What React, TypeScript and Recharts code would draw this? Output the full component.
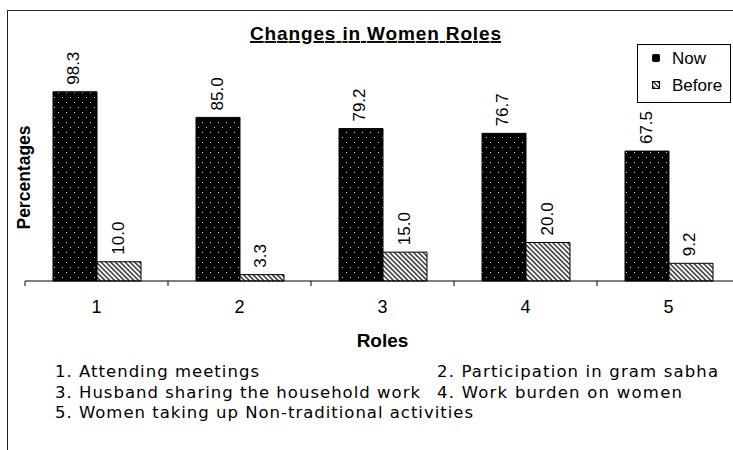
import React from "react";
import { BarChart, Bar, XAxis, YAxis, Legend, LabelList } from "recharts";

const roles = ["1", "2", "3", "4", "5"];
const nowValues = [98.3, 85.0, 79.2, 76.7, 67.5];
const beforeValues = [10.0, 3.3, 15.0, 20.0, 9.2];
const seriesNames = ["Now", "Before"];
const roleNotes = [
  "1. Attending meetings",
  "2. Participation in gram sabha",
  "3. Husband sharing the household work",
  "4. Work burden on women",
  "5. Women taking up Non-traditional activities",
];

const data = roles.map((role, i) => ({ role, now: nowValues[i], before: beforeValues[i] }));

const FONT = "'Liberation Sans', Arial, sans-serif";
const NOTE_FONT = "'DejaVu Sans', Verdana, sans-serif";

// where the footnote lines sit in the original (pixels)
const noteLayout = [
  { x: 55, y: 377, len: 204 },
  { x: 437, y: 377, len: 281 },
  { x: 55, y: 398, len: 365 },
  { x: 437, y: 398, len: 245 },
  { x: 55, y: 418, len: 418 },
];

const ValueLabel = (props: any) => {
  const { x, y, width, value } = props;
  const ax = x + width / 2 + 4.5;
  const ay = y - 7;
  return (
    <text
      x={ax}
      y={ay}
      transform={`rotate(-90, ${ax}, ${ay})`}
      textAnchor="start"
      fontSize={17}
      fontFamily={FONT}
      fill="#000"
    >
      {Number(value).toFixed(1)}
    </text>
  );
};

const RoleTick = (props: any) => {
  const { x, y, payload } = props;
  const half = payload?.offset || 71.5;
  return (
    <g>
      <line x1={x - half} y1={y} x2={x - half} y2={y + 5} stroke="#000" />
      <text x={x} y={y + 32} textAnchor="middle" fontSize={18} fontFamily={FONT} fill="#000">
        {payload.value}
      </text>
    </g>
  );
};

const RolesLabel = (props: any) => {
  const vb = props.viewBox || { x: 25, y: 281, width: 715 };
  return (
    <text
      x={vb.x + vb.width / 2}
      y={vb.y + 66}
      textAnchor="middle"
      fontSize={19}
      fontWeight="bold"
      fontFamily={FONT}
      fill="#000"
    >
      Roles
    </text>
  );
};

const PercentLabel = (props: any) => {
  const vb = props.viewBox || { x: 0, y: 50, width: 25, height: 231 };
  const ax = 30;
  const ay = vb.y + vb.height / 2 + 12;
  return (
    <text
      x={ax}
      y={ay}
      transform={`rotate(-90, ${ax}, ${ay})`}
      textAnchor="middle"
      fontSize={17.5}
      fontWeight="bold"
      fontFamily={FONT}
      fill="#000"
    >
      Percentages
    </text>
  );
};

const LegendBox = (props: any) => {
  const payload = props.payload || [];
  const items = seriesNames
    .map((n) => payload.find((p: any) => p.value === n))
    .filter(Boolean);
  return (
    <svg width={94} height={59} style={{ display: "block" }}>
      <rect x={0.5} y={0.5} width={93} height={58} fill="#fff" stroke="#000" />
      {items.map((p: any, i: number) => (
        <g key={p.value}>
          <rect
            x={15.5}
            y={10.5 + i * 27}
            width={7}
            height={7}
            rx={p.value === "Now" ? 1 : 0}
            fill={p.value === "Now" ? "#000" : "url(#beforeHatch)"}
            stroke="#000"
          />
          <text x={35} y={20 + i * 27} fontSize={17} fontFamily={FONT} fill="#000">
            {p.value}
          </text>
        </g>
      ))}
    </svg>
  );
};

export default function App() {
  return (
    <div
      style={{
        position: "fixed",
        left: 0,
        top: 0,
        width: 733,
        height: 450,
        overflow: "hidden",
        background: "#fff",
      }}
    >
      <svg width={0} height={0} style={{ position: "absolute" }}>
        <defs>
          <pattern id="nowDots" width="8" height="10" patternUnits="userSpaceOnUse">
            <rect width="8" height="10" fill="#000" />
            <rect x="2" y="2" width="1" height="1" fill="#ddd" />
            <rect x="6" y="7" width="1" height="1" fill="#ddd" />
          </pattern>
          <pattern
            id="beforeHatch"
            width="3.4"
            height="3.4"
            patternUnits="userSpaceOnUse"
            patternTransform="rotate(-45)"
          >
            <rect width="3.4" height="3.4" fill="#fff" />
            <line x1="1.7" y1="0" x2="1.7" y2="3.4" stroke="#000" strokeWidth="1.2" />
          </pattern>
        </defs>
      </svg>

      <div
        style={{
          position: "absolute",
          left: 7,
          top: 10,
          width: 780,
          height: 480,
          border: "1px solid #222",
        }}
      />

      <div style={{ position: "absolute", left: 0, top: 0 }}>
        <BarChart
          width={760}
          height={450}
          data={data}
          margin={{ top: 50, right: 20, bottom: 0, left: 0 }}
          barCategoryGap={28}
          barGap={0}
        >
          <XAxis
            dataKey="role"
            height={169}
            tickSize={0}
            tickMargin={0}
            tickLine={false}
            axisLine={{ stroke: "#000" }}
            tick={<RoleTick />}
            interval={0}
            label={(p: any) => <RolesLabel {...p} />}
          />
          <YAxis
            width={25}
            domain={[0, 120]}
            axisLine={false}
            tickLine={false}
            tick={false}
            label={(p: any) => <PercentLabel {...p} />}
          />
          <Legend
            layout="horizontal"
            verticalAlign="middle"
            align="center"
            content={(p: any) => <LegendBox {...p} />}
            wrapperStyle={{ position: "absolute", left: 637, top: 44, width: 94, height: 59 }}
          />
          <Bar dataKey="now" name="Now" fill="url(#nowDots)" stroke="#000" isAnimationActive={false}>
            <LabelList dataKey="now" content={<ValueLabel />} />
          </Bar>
          <Bar
            dataKey="before"
            name="Before"
            fill="url(#beforeHatch)"
            stroke="#000"
            isAnimationActive={false}
          >
            <LabelList dataKey="before" content={<ValueLabel />} />
          </Bar>
        </BarChart>
      </div>

      <svg
        width={733}
        height={450}
        style={{ position: "absolute", left: 0, top: 0, pointerEvents: "none" }}
      >
        <text
          x={250}
          y={40}
          textLength={251}
          lengthAdjust="spacing"
          fontSize={19}
          fontWeight="bold"
          fontFamily={FONT}
          fill="#000"
          style={{ textDecoration: "underline" }}
        >
          Changes in Women Roles
        </text>
        {roleNotes.map((note, i) => (
          <text
            key={note}
            x={noteLayout[i].x}
            y={noteLayout[i].y}
            textLength={noteLayout[i].len}
            lengthAdjust="spacing"
            fontSize={16.5}
            fontFamily={NOTE_FONT}
            fill="#000"
          >
            {note}
          </text>
        ))}
      </svg>
    </div>
  );
}
